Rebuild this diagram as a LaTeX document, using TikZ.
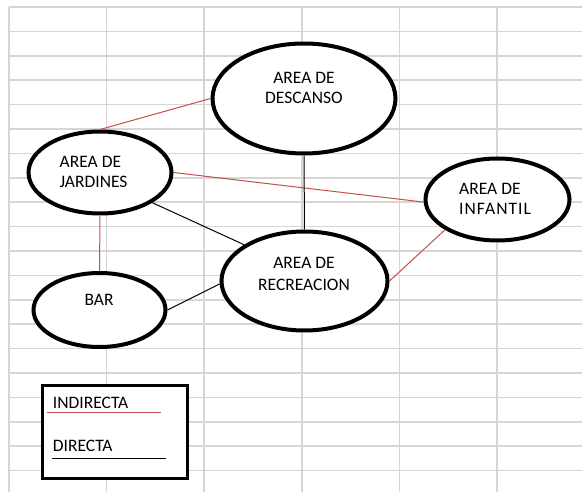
\documentclass[tikz,border=0pt]{standalone}
\usepackage{fontspec}
\setmainfont{Carlito}
\usetikzlibrary{shapes.geometric}
\definecolor{gridgray}{HTML}{D6D6D6}
\definecolor{indred}{HTML}{C0504D}
\begin{document}
\begin{tikzpicture}[x=1pt,y=-1pt,
  area/.style={ellipse, draw=black, line width=4pt, fill=white, inner sep=0pt},
  lbl/.style={font=\fontsize{17.5}{20}\selectfont, inner sep=0pt},
  indirect/.style={draw=indred, line width=1pt},
  direct/.style={draw=black, line width=1pt},
  gridline/.style={draw=gridgray, line width=1.6pt}]
\useasboundingbox (0,0) rectangle (582,492);
\fill[white] (0,0) rectangle (582,492);
% spreadsheet grid
\foreach \x in {9,106.6,204.2,301.8,399.4,497} \draw[gridline] (\x,7) -- (\x,492);
\foreach \k in {0,...,20} \draw[gridline] (9,7+24.4*\k) -- (582,7+24.4*\k);
% areas
\node[area, minimum width=183pt, minimum height=110pt] (desc) at (304,98.5) {};
\node[area, minimum width=143pt, minimum height=82pt] (jard) at (100,172.5) {};
\node[area, minimum width=132pt, minimum height=74pt] (bar) at (99.5,310) {};
\node[area, minimum width=166pt, minimum height=99pt] (recr) at (304.5,281) {};
\node[area, minimum width=144pt, minimum height=82pt] (inf) at (497.5,199.5) {};
% labels
\node[lbl, anchor=base] (descA) at (304,83.3) {AREA DE};
\node[lbl, anchor=base] (descB) at (304,103.3) {DESCANSO};
\node[lbl, anchor=base west] (jardA) at (59.5,167.5) {AREA DE};
\node[lbl, anchor=base west] (jardB) at (59.5,187.7) {JARDINES};
\node[lbl, anchor=base] (barT) at (99,306) {BAR};
\node[lbl, anchor=base] (recrA) at (304,268.5) {AREA DE};
\node[lbl, anchor=base] (recrB) at (304,290.5) {RECREACION};
\node[lbl, anchor=base west] (infA) at (459,195) {AREA DE};
\node[lbl, anchor=base west] (infB) at (459,214.5) {\addfontfeatures{LetterSpace=6}INFANTIL};
% connectors
\draw[indirect] (jard.north) -- (desc.west);
\draw[indirect] (jard.east) -- (inf.182);
\draw[direct] (jard.-30) -- (recr.149);
\draw[indirect] (jard.south) -- (bar.north);
\draw[direct] (bar.east) -- (recr.182);
\draw[direct] (desc.south) -- (recr.north);
\draw[indirect] (inf.210) -- (recr.east);
% legend
\node[draw=black, line width=3pt, fill=white, inner sep=0pt, minimum width=145pt, minimum height=93pt] (legend) at (115,432) {};
\node[lbl, anchor=base west] (indT) at (52.7,408.3) {INDIRECTA};
\node[lbl, anchor=base west] (dirT) at (52.7,451) {DIRECTA};
\coordinate (indL) at (46.7,412.7);
\coordinate (indR) at (160.7,412.7);
\coordinate (dirL) at (51.7,458.3);
\coordinate (dirR) at (166,458.3);
\draw[indirect] (indL) -- (indR);
\draw[direct] (dirL) -- (dirR);
\end{tikzpicture}
\end{document}
